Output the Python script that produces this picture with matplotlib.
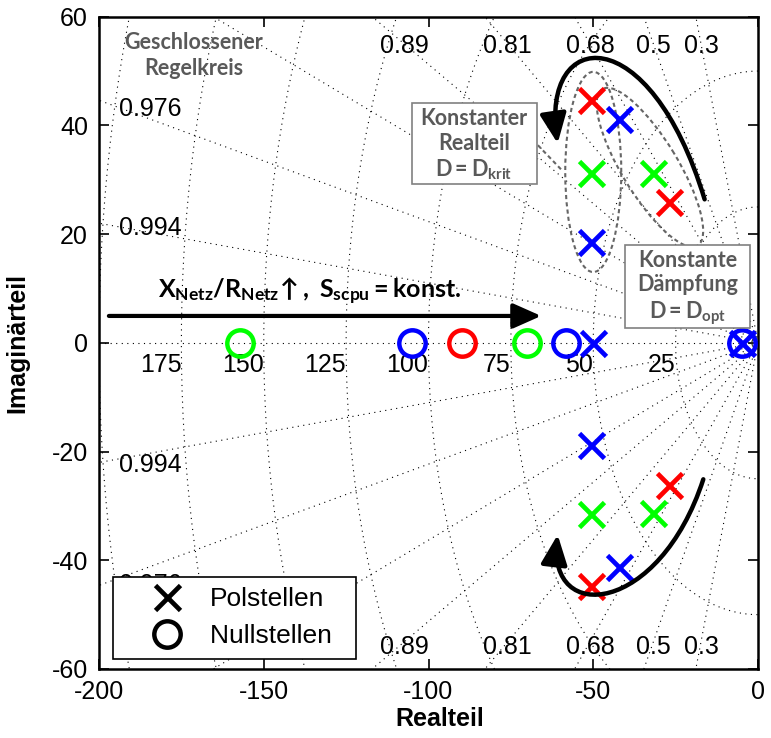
import matplotlib
matplotlib.use('Agg')
import matplotlib.pyplot as plt
import numpy as np
from matplotlib.patches import Ellipse, FancyArrowPatch, Rectangle
from matplotlib.path import Path
from matplotlib.lines import Line2D

plt.rcParams['font.family'] = ['Liberation Sans', 'DejaVu Sans']
plt.rcParams['axes.unicode_minus'] = False
plt.rcParams['mathtext.fontset'] = 'custom'
plt.rcParams['mathtext.rm'] = 'Lato:bold'
plt.rcParams['mathtext.it'] = 'Lato:bold'
plt.rcParams['mathtext.bf'] = 'Lato:bold'

# Polstellen (Realteil, Imaginärteil) je Fall
red_pole_re = [-50.7, -50.7, -27.0, -27.0]
red_pole_im = [44.6, -44.7, 26.0, -26.1]
green_pole_re = [-50.7, -50.7, -32.0, -32.0]
green_pole_im = [31.3, -31.5, 31.2, -31.3]
blue_pole_re = [-42.1, -42.1, -50.7, -50.7, -50.2, -4.8]
blue_pole_im = [41.1, -41.2, 18.6, -18.8, 0.0, 0.0]

# Nullstellen (alle reell)
red_zero_re = [-89.9]
green_zero_re = [-157.3, -70.1]
blue_zero_re = [-105.1, -58.3, -4.8]

# sgrid
zeta_lines = [0.3, 0.5, 0.68, 0.81, 0.89, 0.94, 0.976, 0.994]
zeta_top_labels = [0.89, 0.81, 0.68, 0.5, 0.3]
zeta_left_labels = [0.976, 0.994]
wn_circles = [25, 50, 75, 100, 125, 150, 175, 200]
wn_labels = [25, 50, 75, 100, 125, 150, 175]

xticks = [-200, -150, -100, -50, 0]
yticks = [-60, -40, -20, 0, 20, 40, 60]

GRAY = '#595959'
dot = (0, (1, 4))

fig = plt.figure(figsize=(7.71, 7.38), dpi=100)
ax = fig.add_axes([99 / 771, 69 / 738, 659 / 771, 652.3 / 738])
ax.set_xlim(-200, 0)
ax.set_ylim(-60, 60)

# Gitter: Dämpfungsgeraden und Kreise konstanter Eigenfrequenz
R = 400
for z in zeta_lines:
    s = np.sqrt(1 - z ** 2)
    ax.plot([0, -R * z], [0, R * s], color='k', lw=0.8, ls=dot, zorder=1)
    ax.plot([0, -R * z], [0, -R * s], color='k', lw=0.8, ls=dot, zorder=1)
ax.plot([-200, 0], [0, 0], color='k', lw=0.8, ls=dot, zorder=1)
th = np.linspace(np.pi / 2, 3 * np.pi / 2, 400)
for wn in wn_circles:
    ax.plot(wn * np.cos(th), wn * np.sin(th), color='k', lw=0.8, ls=dot, zorder=1)

for z in zeta_top_labels:
    xl = -55 * z / np.sqrt(1 - z ** 2)
    ax.text(xl, 53.3, f'{z:g}', ha='center', va='baseline', fontsize=18, zorder=2)
    ax.text(xl, -57.3, f'{z:g}', ha='center', va='baseline', fontsize=18, zorder=2)
for z in zeta_left_labels:
    yl = 195 * np.sqrt(1 - z ** 2) / z
    ax.text(-194, yl - 1.7, f'{z:g}', ha='left', va='baseline', fontsize=18, zorder=2)
    ax.text(-194, -yl - 2.3, f'{z:g}', ha='left', va='baseline', fontsize=18, zorder=2)
for wn in wn_labels:
    ax.text(-wn, -5.3, str(wn), ha='right', va='baseline', fontsize=18, zorder=2)

# Ellipsen
ell_kw = dict(transform=ax.transAxes, fill=False, ls=(0, (2, 1.5)), ec='#666666', lw=1.5, zorder=3)
ax.add_patch(Ellipse((0.750, 0.762), width=0.307, height=0.085, angle=90, **ell_kw))
ax.add_patch(Ellipse((0.836, 0.769), width=0.28, height=0.085, angle=121, **ell_kw))
ax.plot([0.666, 0.703], [0.803, 0.764], transform=ax.transAxes, ls=(0, (2, 1.5)),
        color='#666666', lw=1.5, zorder=3)

# Pole und Nullstellen
mk = dict(ls='none', zorder=5)
ax.plot(red_pole_re, red_pole_im, marker='x', color='#ff0000', ms=18, mew=3.4, **mk)
ax.plot(green_pole_re, green_pole_im, marker='x', color='#00ff00', ms=18, mew=3.4, **mk)
ax.plot(blue_pole_re, blue_pole_im, marker='x', color='#0000ff', ms=18, mew=3.4, **mk)
ax.plot(green_zero_re, [0] * len(green_zero_re), marker='o', mfc='none', mec='#00ff00', ms=19, mew=3.2, **mk)
ax.plot(red_zero_re, [0] * len(red_zero_re), marker='o', mfc='none', mec='#ff0000', ms=19, mew=3.2, **mk)
ax.plot(blue_zero_re, [0] * len(blue_zero_re), marker='o', mfc='none', mec='#0000ff', ms=19, mew=3.2, **mk)

# Pfeile
astyle = '-|>,head_length=0.45,head_width=0.2'
top_path = Path([(-16.2, 26.4), (-33, 60), (-66, 58), (-60.8, 36.7)],
                [Path.MOVETO, Path.CURVE4, Path.CURVE4, Path.CURVE4])
bot_path = Path([(-16.6, -25.1), (-30, -50), (-64, -52), (-60.8, -35.3)],
                [Path.MOVETO, Path.CURVE4, Path.CURVE4, Path.CURVE4])
for p in (top_path, bot_path):
    ax.add_patch(FancyArrowPatch(path=p, arrowstyle=astyle, mutation_scale=40,
                                 lw=3.2, color='k', zorder=6))
ax.annotate('', xy=(-65.8, 4.95), xytext=(-197, 4.95),
            arrowprops=dict(arrowstyle=astyle, mutation_scale=38, lw=3, color='k',
                            shrinkA=0, shrinkB=0), zorder=6)
ax.text(-136, 9.4, r'$X_{Netz}/R_{Netz}\!\uparrow,\ S_{scpu}=konst.$',
        ha='center', va='center', fontsize=18, color='k', zorder=6)

# Textfelder
ax.add_patch(Rectangle((0.4745, 0.7435), 0.1897, 0.1237, transform=ax.transAxes,
                       fc='white', ec='#808080', lw=1.2, zorder=7))
ax.text(0.569, 0.803, 'Konstanter\nRealteil\n$D = D_{krit}$', transform=ax.transAxes,
        ha='center', va='center', fontsize=15.5, family='Lato', weight='bold',
        color=GRAY, linespacing=1.2, zorder=8)
ax.add_patch(Rectangle((0.798, 0.5223), 0.190, 0.1277, transform=ax.transAxes,
                       fc='white', ec='#808080', lw=1.2, zorder=7))
ax.text(0.893, 0.584, 'Konstante\nDämpfung\n$D = D_{opt}$', transform=ax.transAxes,
        ha='center', va='center', fontsize=15.5, family='Lato', weight='bold',
        color=GRAY, linespacing=1.2, zorder=8)
ax.text(0.144, 0.940, 'Geschlossener\nRegelkreis', transform=ax.transAxes,
        ha='center', va='center', fontsize=15.5, family='Lato', weight='bold',
        color=GRAY, linespacing=1.3, zorder=8)

# Legende
handles = [Line2D([], [], marker='x', color='k', ls='none', ms=18, mew=3.4),
           Line2D([], [], marker='o', mfc='none', mec='k', ls='none', ms=19, mew=3.2)]
leg = ax.legend(handles, ['Polstellen', 'Nullstellen\u2002'], loc='lower left',
                bbox_to_anchor=(0.0208, 0.0153), borderaxespad=0, fontsize=19,
                fancybox=False, framealpha=1, edgecolor='k', handlelength=3.3,
                handletextpad=0.0, borderpad=0.4, labelspacing=0.5)
leg.get_frame().set_linewidth(1.2)
leg.set_zorder(10)

# Achsen
ax.set_xticks(xticks)
ax.set_yticks(yticks)
ax.tick_params(direction='in', length=7, width=1.2, top=True, right=True,
               labelsize=18, pad=8)
for sp in ax.spines.values():
    sp.set_linewidth(1.8)
ax.set_xlabel('Realteil', fontsize=18, fontweight='bold')
ax.set_ylabel('Imaginärteil', fontsize=18, fontweight='bold')
ax.xaxis.set_label_coords(0.517, -0.058)
ax.yaxis.set_label_coords(-0.105, 0.5)

fig.savefig('out.png', dpi=100)
